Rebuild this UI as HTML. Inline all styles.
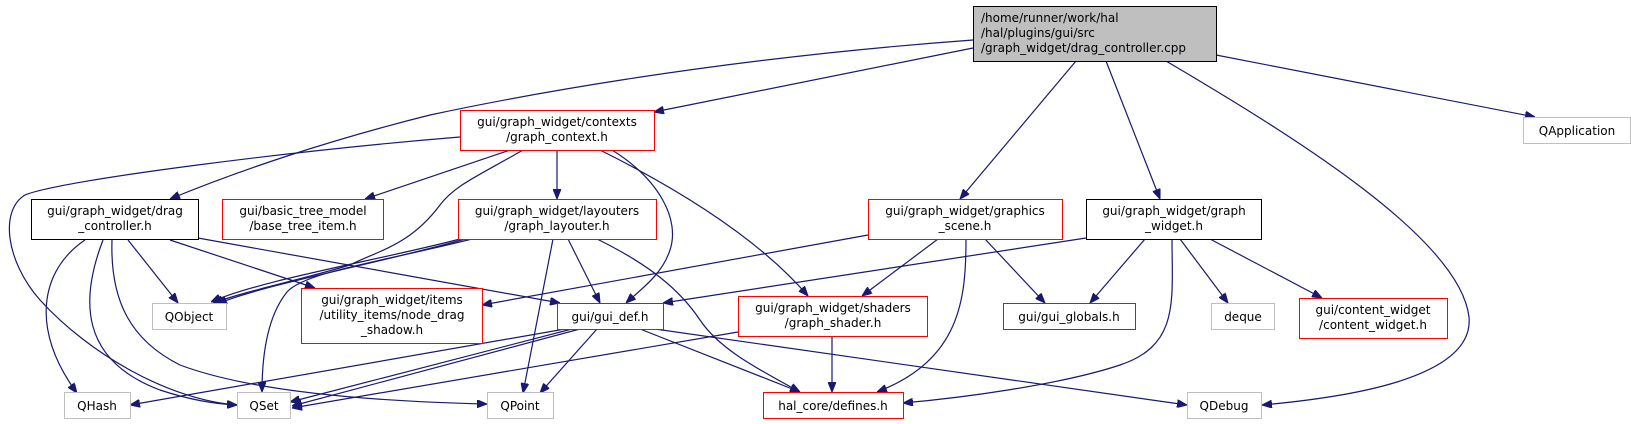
<!DOCTYPE html>
<html><head><meta charset="utf-8"><style>
body{margin:0;background:#fff;}
svg{display:block;}
text{font-family:"DejaVu Sans","Liberation Sans",sans-serif;font-size:12px;fill:#000;}
.e{fill:none;stroke:#191970;stroke-width:1.2;}
</style></head><body>
<svg width="1631" height="424" viewBox="0 0 1631 424" xmlns="http://www.w3.org/2000/svg">
<defs>
<marker id="a" viewBox="0 0 10 8" refX="10" refY="4" markerWidth="10" markerHeight="8" markerUnits="userSpaceOnUse" orient="auto">
<path d="M0,0 L10,4 L0,8 z" fill="#191970" stroke="#191970"/>
</marker>
</defs>
<g marker-end="url(#a)">
<!-- root -->
<path class="e" d="M973,48 L654,112"/>
<path class="e" d="M973,40 C700,60 500,100 430,115 C330,140 240,170 170,199"/>
<path class="e" d="M1076,61 L960,199"/>
<path class="e" d="M1106,61 L1160,199"/>
<path class="e" d="M1166,61 C1300,140 1460,240 1469,317 C1475,380 1340,398 1262,405"/>
<path class="e" d="M1216,55 L1535,117"/>
<!-- graph_context -->
<path class="e" d="M460,137 C300,150 60,180 25,195 C0,210 5,260 40,300 C90,355 170,400 237,405"/>
<path class="e" d="M510,150 L365,199"/>
<path class="e" d="M523,150 C480,175 455,185 440,205 C410,245 380,250 350,265 C300,280 250,290 213,303"/>
<path class="e" d="M557,150 L557,199"/>
<path class="e" d="M612,150 C660,180 680,220 670,250 C662,275 640,290 626,303"/>
<path class="e" d="M600,150 C680,190 760,240 808,296"/>
<!-- drag_controller -->
<path class="e" d="M85,240 C40,270 30,330 77,393"/>
<path class="e" d="M103,240 C80,300 80,360 160,390 C190,400 215,404 237,405"/>
<path class="e" d="M112,240 C110,300 130,340 180,365 C260,395 400,402 487,404"/>
<path class="e" d="M128,240 L178,303"/>
<path class="e" d="M170,240 L315,288"/>
<path class="e" d="M198,238 L560,303"/>
<!-- graph_layouter -->
<path class="e" d="M460,239 C380,260 260,280 211,302"/>
<path class="e" d="M465,239 C385,262 265,284 217,304"/>
<path class="e" d="M472,239 C380,262 305,272 287,292 C266,318 262,360 262,392"/>
<path class="e" d="M553,239 L523,393"/>
<path class="e" d="M568,239 L600,303"/>
<path class="e" d="M597,239 C650,265 680,290 700,320 C720,350 760,370 800,392"/>
<!-- graphics_scene -->
<path class="e" d="M868,235 L482,305"/>
<path class="e" d="M938,239 L862,296"/>
<path class="e" d="M985,239 L1045,303"/>
<path class="e" d="M966,239 C966,300 960,360 877,392"/>
<!-- graph_widget -->
<path class="e" d="M1086,238 L663,303"/>
<path class="e" d="M1145,239 L1090,303"/>
<path class="e" d="M1180,239 L1228,303"/>
<path class="e" d="M1210,239 L1322,298"/>
<path class="e" d="M1172,239 C1172,300 1180,345 1120,365 C1060,385 960,398 903,403"/>
<!-- gui_def -->
<path class="e" d="M565,329 L130,405"/>
<path class="e" d="M572,329 L290,402"/>
<path class="e" d="M580,329 L292,406"/>
<path class="e" d="M597,329 L540,393"/>
<path class="e" d="M640,329 L800,392"/>
<path class="e" d="M655,329 L1187,405"/>
<!-- graph_shader -->
<path class="e" d="M738,332 L292,408"/>
<path class="e" d="M832,336 L832,392"/>
</g>

<!-- nodes -->
<rect x="973.5" y="6.5" width="243" height="55" fill="#bfbfbf" stroke="#000"/>
<text x="981" y="22">/home/runner/work/hal</text>
<text x="981" y="37">/hal/plugins/gui/src</text>
<text x="981" y="52">/graph_widget/drag_controller.cpp</text>

<rect x="1523.5" y="117.5" width="107" height="26" fill="#fff" stroke="#bfbfbf"/>
<text x="1577" y="135" text-anchor="middle">QApplication</text>

<g fill="#fff" stroke="#ff0000" text-anchor="middle">
<rect x="460.5" y="110.5" width="194" height="40"/>
<rect x="222.5" y="199.5" width="161" height="40"/>
<rect x="458.5" y="199.5" width="198" height="40"/>
<rect x="868.5" y="199.5" width="194" height="40"/>
<rect x="301.5" y="288.5" width="181" height="55"/>
<rect x="557.5" y="303.5" width="106" height="26"/>
<rect x="738.5" y="296.5" width="189" height="40"/>
<rect x="1003.5" y="303.5" width="132" height="26"/>
<rect x="1299.5" y="298.5" width="148" height="40"/>
<rect x="763.5" y="392.5" width="140" height="26"/>
</g>
<g fill="#fff" stroke="#000">
<rect x="31.5" y="199.5" width="167" height="40"/>
<rect x="1086.5" y="199.5" width="175" height="40"/>
</g>
<g fill="#fff" stroke="#bfbfbf">
<rect x="152.5" y="303.5" width="74" height="26"/>
<rect x="1211.5" y="303.5" width="63" height="26"/>
<rect x="64.5" y="392.5" width="66" height="26"/>
<rect x="237.5" y="392.5" width="53" height="26"/>
<rect x="487.5" y="392.5" width="66" height="26"/>
<rect x="1187.5" y="392.5" width="74" height="26"/>
</g>

<g text-anchor="middle">
<text x="557" y="126">gui/graph_widget/contexts</text>
<text x="557" y="141">/graph_context.h</text>
<text x="115" y="215">gui/graph_widget/drag</text>
<text x="115" y="230">_controller.h</text>
<text x="303" y="215">gui/basic_tree_model</text>
<text x="303" y="230">/base_tree_item.h</text>
<text x="557" y="215">gui/graph_widget/layouters</text>
<text x="557" y="230">/graph_layouter.h</text>
<text x="965" y="215">gui/graph_widget/graphics</text>
<text x="965" y="230">_scene.h</text>
<text x="1174" y="215">gui/graph_widget/graph</text>
<text x="1174" y="230">_widget.h</text>
<text x="189" y="321">QObject</text>
<text x="392" y="304">gui/graph_widget/items</text>
<text x="392" y="319">/utility_items/node_drag</text>
<text x="392" y="334">_shadow.h</text>
<text x="610" y="321">gui/gui_def.h</text>
<text x="833" y="312">gui/graph_widget/shaders</text>
<text x="833" y="327">/graph_shader.h</text>
<text x="1069" y="321">gui/gui_globals.h</text>
<text x="1243" y="321">deque</text>
<text x="1373" y="314">gui/content_widget</text>
<text x="1373" y="329">/content_widget.h</text>
<text x="97" y="410">QHash</text>
<text x="264" y="410">QSet</text>
<text x="520" y="410">QPoint</text>
<text x="833" y="410">hal_core/defines.h</text>
<text x="1224" y="410">QDebug</text>
</g>
</svg>
</body></html>
